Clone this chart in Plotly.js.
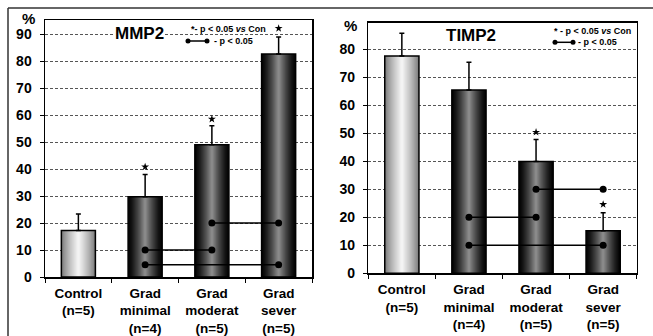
<!DOCTYPE html>
<html>
<head>
<meta charset="utf-8">
<script src="https://cdn.plot.ly/plotly-3.0.1.min.js"></script>
<style>html,body{margin:0;padding:0;background:#fff;}#chart{width:653px;height:336px;}</style>
</head>
<body>
<div id="chart"></div>
<script>
// ---- data ----
const categories = ["Control<br>(n=5)", "Grad<br>minimal<br>(n=4)", "Grad<br>moderat<br>(n=5)", "Grad<br>sever<br>(n=5)"];
const mmp2Mean = [17.2, 29.7, 49.0, 82.6];
const mmp2ErrUp = [6.1, 8.3, 7.0, 6.3];
const mmp2Star = [null, 40.8, 58.5, 92.1];
const mmp2SigFrom = [1, 1, 2];
const mmp2SigTo = [2, 3, 3];
const mmp2SigY = [10, 4.5, 20];

const timp2Mean = [77.6, 65.5, 39.9, 15.2];
const timp2ErrUp = [8.1, 9.9, 7.9, 6.4];
const timp2Star = [null, null, 50.4, 24.6];
const timp2SigFrom = [1, 1, 2];
const timp2SigTo = [2, 3, 3];
const timp2SigY = [20, 10, 30];

// ---- helpers ----
const W = 653, H = 336;
const px = x => x / W;
const py = y => 1 - y / H;
const FONT = "Liberation Sans, Arial, sans-serif";

function mix(a, b, t) {
  const r = Math.round(a[0] + (b[0] - a[0]) * t);
  const g = Math.round(a[1] + (b[1] - a[1]) * t);
  const bl = Math.round(a[2] + (b[2] - a[2]) * t);
  return `rgb(${r},${g},${bl})`;
}
const lightEdge = [120, 120, 120], lightCenter = [250, 250, 250];
const darkEdge = [5, 5, 5], darkCenter = [150, 150, 150];
const BW = 0.51;
const N = 16;

const traces = [];
function panel(mean, errUp, stars, sFrom, sTo, sY, xa, ya) {
  for (let i = 0; i < N; i++) {
    const f = 1 - i / N;
    const tDark = Math.pow(1 - f, 1.3);
    const tLight = Math.pow(1 - f, 0.8);
    traces.push({
      type: 'bar', x: categories, y: mean, xaxis: xa, yaxis: ya,
      width: categories.map(() => BW * f),
      marker: { color: categories.map((c, k) => k === 0 ? mix(lightEdge, lightCenter, tLight) : mix(darkEdge, darkCenter, tDark)), line: { width: 0 } },
      hoverinfo: 'skip', showlegend: false
    });
  }
  traces.push({
    type: 'bar', x: categories, y: mean, xaxis: xa, yaxis: ya,
    width: categories.map(() => BW),
    marker: { color: 'rgba(0,0,0,0)', line: { color: '#000', width: 1.5 } },
    error_y: { type: 'data', symmetric: false, array: errUp, arrayminus: errUp.map(() => 0), color: '#000', thickness: 1.5, width: 2.5 },
    showlegend: false
  });
  for (let k = 0; k < sFrom.length; k++) {
    traces.push({
      type: 'scatter', mode: 'lines+markers', xaxis: xa, yaxis: ya,
      x: [categories[sFrom[k]], categories[sTo[k]]], y: [sY[k], sY[k]],
      line: { color: '#000', width: 1.5 }, marker: { color: '#000', size: 7 },
      showlegend: false, hoverinfo: 'skip'
    });
  }
  traces.push({
    type: 'scatter', mode: 'markers', xaxis: xa, yaxis: ya,
    x: categories, y: stars,
    marker: { symbol: 'star', color: '#000', size: 6 },
    showlegend: false, hoverinfo: 'skip'
  });
}
panel(mmp2Mean, mmp2ErrUp, mmp2Star, mmp2SigFrom, mmp2SigTo, mmp2SigY, 'x', 'y');
panel(timp2Mean, timp2ErrUp, timp2Star, timp2SigFrom, timp2SigTo, timp2SigY, 'x2', 'y2');

const xCommon = {
  type: 'category', showline: true, mirror: true, linecolor: '#000', linewidth: 1.5,
  ticks: 'outside', tickson: 'boundaries', ticklen: 4, tickcolor: '#000', tickwidth: 1,
  ticklabelstandoff: 3,
  tickfont: { family: FONT, size: 13.5, color: '#000', weight: 'bold' },
  showgrid: false, fixedrange: true, automargin: false
};
const yCommon = {
  showline: true, mirror: true, linecolor: '#000', linewidth: 1.5,
  ticks: 'outside', ticklen: 4, tickcolor: '#000', tickwidth: 1, dtick: 10,
  ticklabelstandoff: 5,
  tickfont: { family: FONT, size: 14, color: '#000', weight: 'bold' },
  showgrid: true, gridcolor: '#555', gridwidth: 1, griddash: '3px,2px',
  zeroline: false, fixedrange: true, automargin: false
};

const ann = (x, y, text, size, anchor, extra) => Object.assign({
  xref: 'paper', yref: 'paper', x: px(x), y: py(y), text: text, showarrow: false,
  xanchor: anchor || 'center', yanchor: 'middle',
  font: { family: FONT, size: size, color: '#000', weight: 'bold' }
}, extra || {});

const layout = {
  width: W, height: H,
  margin: { l: 0, r: 0, t: 0, b: 0 },
  paper_bgcolor: '#fff', plot_bgcolor: '#fff',
  barmode: 'overlay', showlegend: false,
  xaxis: Object.assign({}, xCommon, { domain: [px(45), px(312)], anchor: 'y' }),
  yaxis: Object.assign({}, yCommon, { domain: [py(277), py(20)], range: [0, 95.2], anchor: 'x' }),
  xaxis2: Object.assign({}, xCommon, { domain: [px(368.3), px(636.7)], anchor: 'y2' }),
  yaxis2: Object.assign({}, yCommon, { domain: [py(273.3), py(22.7)], range: [0, 89.5], anchor: 'x2' }),
  annotations: [
    ann(28, 18, '%', 15),
    ann(350, 26, '%', 15),
    ann(139, 34, 'MMP2', 17, 'center', { bgcolor: '#fff', borderpad: 0 }),
    ann(471, 35.5, 'TIMP2', 17, 'center', { bgcolor: '#fff', borderpad: 0 }),
    ann(189, 28.7, '*- p &lt; 0.05 <i>vs</i> Con', 9, 'left'),
    ann(212, 41, '- p &lt; 0.05', 9, 'left'),
    ann(552, 30.7, '* - p &lt; 0.05 <i>vs</i> Con', 9, 'left'),
    ann(576, 42.3, '- p &lt; 0.05', 9, 'left')
  ],
  shapes: [
    { type: 'line', xref: 'paper', yref: 'paper', x0: px(8), x1: 1, y0: py(8), y1: py(8), line: { color: '#333', width: 1.5 } },
    { type: 'line', xref: 'paper', yref: 'paper', x0: px(8), x1: px(8), y0: py(8), y1: 0, line: { color: '#333', width: 1.5 } },
    { type: 'line', xref: 'paper', yref: 'paper', x0: px(188), x1: px(207), y0: py(41), y1: py(41), line: { color: '#000', width: 1.5 } },
    { type: 'circle', xref: 'paper', yref: 'paper', x0: px(185.5), x1: px(190.5), y0: py(38.5), y1: py(43.5), fillcolor: '#000', line: { width: 0 } },
    { type: 'circle', xref: 'paper', yref: 'paper', x0: px(204.5), x1: px(209.5), y0: py(38.5), y1: py(43.5), fillcolor: '#000', line: { width: 0 } },
    { type: 'line', xref: 'paper', yref: 'paper', x0: px(555), x1: px(573), y0: py(42.3), y1: py(42.3), line: { color: '#000', width: 1.5 } },
    { type: 'circle', xref: 'paper', yref: 'paper', x0: px(552.5), x1: px(557.5), y0: py(39.8), y1: py(44.8), fillcolor: '#000', line: { width: 0 } },
    { type: 'circle', xref: 'paper', yref: 'paper', x0: px(570.5), x1: px(575.5), y0: py(39.8), y1: py(44.8), fillcolor: '#000', line: { width: 0 } }
  ]
};

Plotly.newPlot('chart', traces, layout, { staticPlot: true, displayModeBar: false });
</script>
</body>
</html>
